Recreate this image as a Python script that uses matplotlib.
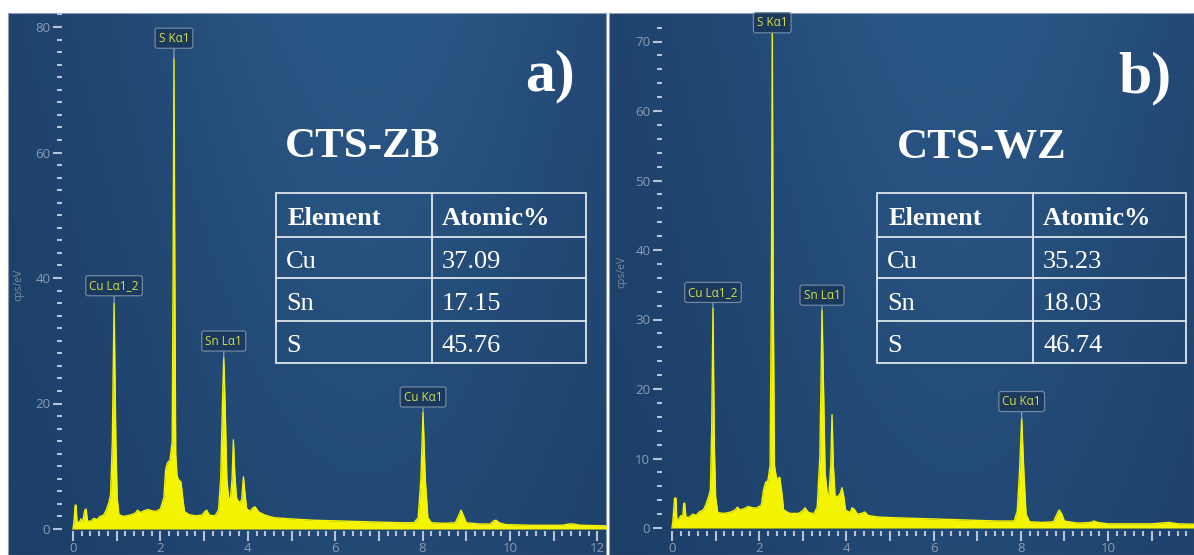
import numpy as np
import matplotlib
matplotlib.use('Agg')
import matplotlib.pyplot as plt
from matplotlib.ticker import FixedLocator, FuncFormatter
from matplotlib.colors import LinearSegmentedColormap
from matplotlib.patches import Rectangle

# a) CTS-ZB : outline of the EDS spectrum (keV, cps/eV)
zb_kev = [0.00, 0.02, 0.05, 0.07, 0.09, 0.14, 0.18, 0.22, 0.27, 0.30, 0.33, 0.40, 0.48, 0.55,
          0.62, 0.70, 0.76, 0.82, 0.86, 0.90, 0.94, 0.98, 1.01, 1.05, 1.15, 1.30, 1.42, 1.48,
          1.54, 1.62, 1.72, 1.80, 1.90, 2.00, 2.08, 2.12, 2.16, 2.22, 2.27, 2.29, 2.31, 2.33,
          2.35, 2.38, 2.42, 2.47, 2.51, 2.55, 2.65, 2.80, 2.95, 3.02, 3.06, 3.12, 3.25, 3.33,
          3.38, 3.42, 3.45, 3.48, 3.52, 3.56, 3.60, 3.64, 3.67, 3.70, 3.74, 3.80, 3.86, 3.90,
          3.93, 3.97, 4.05, 4.12, 4.17, 4.25, 4.40, 4.60, 5.00, 5.50, 6.00, 6.50, 7.00, 7.50,
          7.80, 7.90, 7.96, 8.01, 8.06, 8.12, 8.20, 8.50, 8.75, 8.83, 8.88, 8.93, 9.00, 9.30,
          9.55, 9.63, 9.68, 9.75, 9.90, 10.5, 11.2, 11.35, 11.45, 11.6, 12.3]
zb_cps = [0.0, 1.0, 3.8, 3.8, 1.2, 1.0, 1.6, 1.1, 3.0, 3.2, 1.3, 1.2, 1.7, 1.5,
          2.0, 2.2, 3.0, 4.2, 5.5, 14.0, 36.0, 14.0, 5.0, 2.3, 2.0, 2.2, 2.5, 3.0,
          2.6, 2.9, 3.1, 2.9, 2.8, 3.2, 5.0, 9.5, 10.5, 11.0, 14.0, 40.0, 75.0, 40.0,
          12.0, 8.5, 7.8, 7.5, 5.0, 2.8, 2.3, 2.1, 2.2, 2.8, 3.0, 2.2, 2.1, 3.0,
          8.0, 20.0, 27.3, 20.0, 8.0, 5.0, 4.6, 8.0, 14.2, 9.0, 5.0, 4.2, 4.6, 8.3,
          6.0, 3.3, 2.8, 3.4, 3.5, 2.7, 2.2, 1.8, 1.6, 1.4, 1.3, 1.2, 1.1, 1.0,
          1.0, 1.8, 8.0, 18.6, 8.0, 1.8, 1.0, 0.9, 1.0, 2.2, 3.0, 2.2, 1.0, 0.8,
          0.8, 1.3, 1.4, 1.0, 0.7, 0.6, 0.6, 0.8, 0.8, 0.6, 0.5]

# b) CTS-WZ
wz_kev = [0.00, 0.02, 0.06, 0.09, 0.11, 0.16, 0.20, 0.24, 0.27, 0.29, 0.32, 0.40, 0.48, 0.55,
          0.62, 0.72, 0.78, 0.84, 0.88, 0.91, 0.94, 0.97, 1.00, 1.05, 1.20, 1.35, 1.45, 1.50,
          1.56, 1.66, 1.75, 1.84, 1.95, 2.05, 2.10, 2.15, 2.20, 2.25, 2.28, 2.30, 2.32, 2.35,
          2.40, 2.47, 2.52, 2.56, 2.70, 2.90, 3.00, 3.05, 3.12, 3.25, 3.33, 3.39, 3.42, 3.44,
          3.47, 3.51, 3.56, 3.60, 3.64, 3.67, 3.70, 3.74, 3.80, 3.86, 3.90, 3.94, 3.98, 4.08,
          4.13, 4.18, 4.25, 4.35, 4.42, 4.50, 4.70, 5.00, 5.50, 6.00, 6.50, 7.00, 7.50, 7.85,
          7.92, 7.97, 8.02, 8.07, 8.12, 8.20, 8.50, 8.75, 8.83, 8.88, 8.94, 9.00, 9.30, 9.60,
          9.68, 9.76, 10.0, 11.0, 11.4, 11.6, 12.3]
wz_cps = [0.0, 1.0, 4.3, 4.3, 1.2, 1.3, 1.8, 1.3, 3.5, 3.6, 1.5, 1.6, 2.0, 1.8,
          2.3, 2.6, 3.4, 4.5, 5.5, 14.0, 31.7, 12.0, 4.5, 2.2, 2.1, 2.3, 2.6, 3.0,
          2.6, 2.8, 3.1, 2.9, 2.9, 3.3, 5.5, 6.6, 6.8, 9.0, 35.0, 71.6, 35.0, 9.0,
          7.0, 7.3, 5.0, 2.6, 2.1, 2.1, 2.5, 2.9, 2.3, 2.0, 3.0, 10.0, 22.0, 31.4,
          22.0, 8.0, 5.0, 4.7, 9.0, 16.3, 9.0, 4.6, 4.5, 5.0, 5.8, 4.5, 2.6, 2.2,
          2.9, 2.7, 2.0, 2.1, 2.3, 1.8, 1.6, 1.5, 1.4, 1.3, 1.2, 1.1, 1.0, 1.0,
          2.5, 8.0, 15.8, 8.0, 2.0, 0.9, 0.8, 0.9, 2.0, 2.6, 2.0, 1.0, 0.7, 0.8,
          1.0, 0.8, 0.6, 0.6, 0.8, 0.6, 0.5]

# peak labels
lijnen = ['Cu Lα1_2', 'S Kα1', 'Sn Lα1', 'Cu Kα1']
zb_lijn_kev = [0.94, 2.31, 3.45, 8.01]
zb_lijn_cps = [36.0, 75.0, 27.3, 18.6]
wz_lijn_kev = [0.94, 2.30, 3.44, 8.02]
wz_lijn_cps = [31.7, 71.6, 31.4, 15.8]

# composition tables
elementen = ['Cu', 'Sn', 'S']
zb_atomic = [37.09, 17.15, 45.76]
wz_atomic = [35.23, 18.03, 46.74]

W, H = 1194, 555
fig = plt.figure(figsize=(W / 100, H / 100), dpi=100, facecolor='white')

blauw = LinearSegmentedColormap.from_list('bg', ['#1c3e67', '#2a5685'])
gx, gy = np.meshgrid(np.linspace(0, 1, 300), np.linspace(0, 1, 200))
verloop = np.exp(-((gx - 0.6) / 0.4) ** 2) * (1 - 0.5 * gy) + 0.15 * (1 - gy)

serif = 'Liberation Serif'
tick_kleur = '#b7c3d2'
label_kleur = '#8a9cb2'


def paneel(links, rechts, x0, px_kev, y0, px_cps, spine_x, spine_y, ymax, ystap,
           kev, cps, lijn_kev, lijn_cps, lijn_dy):
    top, onder = 13, H
    rect = [links / W, 1 - onder / H, (rechts - links) / W, (onder - top) / H]
    bg = fig.add_axes(rect)
    bg.imshow(verloop, extent=[0, 1, 0, 1], aspect='auto', cmap=blauw, vmin=0, vmax=1.1)
    bg.set_xticks([])
    bg.set_yticks([])
    for s in bg.spines.values():
        s.set_color('#8d9cb0')
        s.set_linewidth(0.8)

    ax = fig.add_axes(rect, facecolor='none')
    ax.set_xlim((links - x0) / px_kev, (rechts - x0) / px_kev)
    ax.set_ylim(-(onder - y0) / px_cps, (y0 - top) / px_cps)

    ax.fill_between(kev, cps, 0, color='#f4f400', lw=0, zorder=3)
    ax.plot(kev, cps, color='#f4f400', lw=1.0, zorder=3)

    for s in ax.spines.values():
        s.set_color('none')
    ax.spines['left'].set_position(('data', (spine_x - x0) / px_kev))
    ax.spines['bottom'].set_position(('data', -(spine_y - y0) / px_cps))

    ax.yaxis.set_major_locator(FixedLocator(np.arange(0, ymax + 0.1, ystap)))
    ax.yaxis.set_minor_locator(FixedLocator(np.arange(0, ymax + 2.5, 2)))
    ax.xaxis.set_major_locator(FixedLocator(np.arange(0, 12.5, 1)))
    ax.xaxis.set_minor_locator(FixedLocator(np.arange(0, 12.5, 0.2)))
    ax.xaxis.set_major_formatter(FuncFormatter(lambda v, p: '%d' % v if round(v) % 2 == 0 else ''))
    ax.yaxis.set_major_formatter(FuncFormatter(lambda v, p: '%d' % v))

    ax.tick_params(which='both', color=tick_kleur, width=1.5, labelcolor=label_kleur,
                   labelsize=9.5)
    ax.tick_params(axis='y', which='major', length=6.5, pad=2)
    ax.tick_params(axis='y', which='minor', length=3.5)
    ax.tick_params(axis='x', which='major', length=7, pad=1)
    ax.tick_params(axis='x', which='minor', length=3.6)
    for t in ax.get_xticklabels() + ax.get_yticklabels():
        t.set_family('Open Sans')

    for naam, e, c, dy in zip(lijnen, lijn_kev, lijn_cps, lijn_dy):
        ax.annotate(naam, xy=(e, c), xytext=(0, dy), textcoords='offset points',
                    ha='center', va='center', fontsize=8.5, color='#d5df4a', zorder=5,
                    family='Open Sans',
                    bbox=dict(boxstyle='round,pad=0.3,rounding_size=0.2', fc='#1b395d',
                              ec='#6f87a2', lw=0.9),
                    arrowprops=dict(arrowstyle='-', color='#8fa0b3', lw=0.9,
                                    shrinkA=0, shrinkB=0))
    return ax


ax1 = paneel(8, 606, 73, 43.7, 529, 6.275, 62, 531, 80, 20,
             zb_kev, zb_cps, zb_lijn_kev, zb_lijn_cps, [12.5, 14.5, 12, 11])
ax2 = paneel(609, W, 672, 43.6, 528, 6.95, 662, 531, 70, 10,
             wz_kev, wz_cps, wz_lijn_kev, wz_lijn_cps, [11, 5.5, 10.5, 12])

# overlay in pixel coordinates for titles and tables
ov = fig.add_axes([0, 0, 1, 1], facecolor='none')
ov.set_xlim(0, W)
ov.set_ylim(H, 0)
ov.axis('off')

ov.text(19, 285, 'cps/eV', rotation=90, ha='center', va='center', fontsize=7.5,
        color='#7b8da4', family='Open Sans')
ov.text(622, 272, 'cps/eV', rotation=90, ha='center', va='center', fontsize=7.5,
        color='#7b8da4', family='Open Sans')

ov.text(525, 90, 'a)', fontsize=43, weight='bold', family=serif, color='white', va='baseline')
ov.text(1118, 92, 'b)', fontsize=43, weight='bold', family=serif, color='white', va='baseline')
ov.text(285, 157, 'CTS-ZB', fontsize=31, weight='bold', family=serif, color='white', va='baseline')
ov.text(897, 157, 'CTS-WZ', fontsize=31, weight='bold', family=serif, color='white', va='baseline')


def tabel(xs, waarden):
    ys = [193, 237, 278, 321, 363]
    lk = '#dfe5ec'
    ov.add_patch(Rectangle((xs[0], ys[0]), xs[2] - xs[0], ys[-1] - ys[0], fill=False,
                           ec=lk, lw=1.3))
    ov.plot([xs[1], xs[1]], [ys[0], ys[-1]], color=lk, lw=1.3)
    for y in ys[1:-1]:
        ov.plot([xs[0], xs[2]], [y, y], color=lk, lw=1.3)
    ov.text(xs[0] + 12, 225, 'Element', fontsize=19, weight='bold', family=serif,
            color='white', va='baseline')
    ov.text(xs[1] + 10, 225, 'Atomic%', fontsize=19, weight='bold', family=serif,
            color='white', va='baseline')
    for i, (el, w) in enumerate(zip(elementen, waarden)):
        yb = (ys[i + 1] + ys[i + 2]) / 2 + 10
        ov.text(xs[0] + 10, yb, el, fontsize=19, family=serif, color='white', va='baseline')
        ov.text(xs[1] + 10, yb, '%.2f' % w, fontsize=19, family=serif, color='white',
                va='baseline')


tabel([276, 432, 586], zb_atomic)
tabel([877, 1033, 1186], wz_atomic)

fig.savefig('out.png', dpi=100, facecolor='white')
